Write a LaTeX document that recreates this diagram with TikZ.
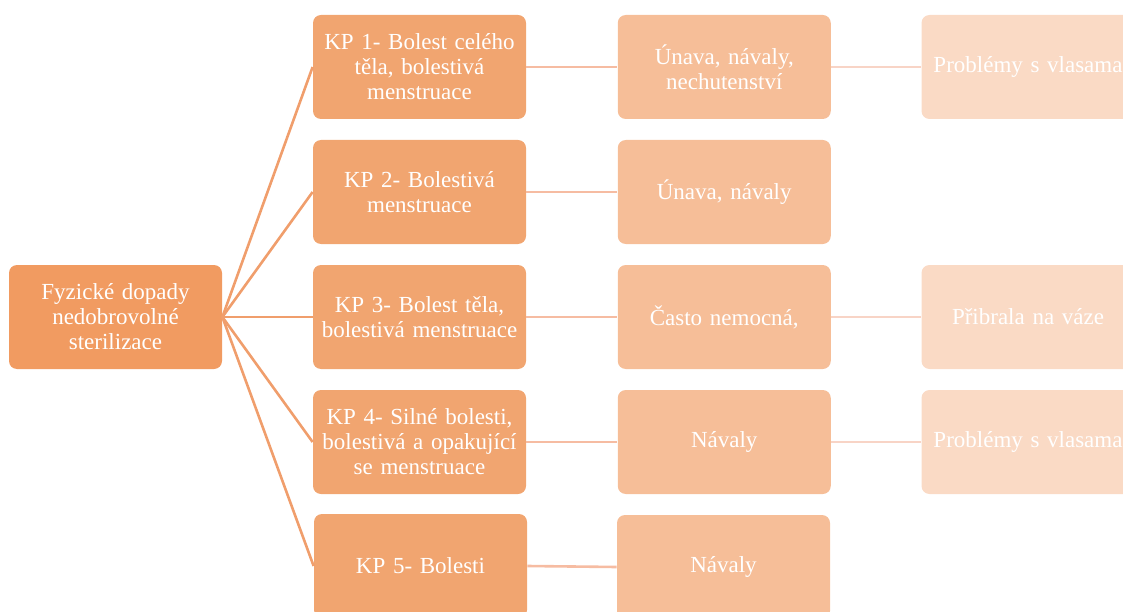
\documentclass[tikz,border=0pt]{standalone}
\usepackage{fontspec}
\setmainfont[WordSpace=0.8]{Liberation Serif}
\usetikzlibrary{positioning}

\definecolor{rootfill}{RGB}{241,155,97}
\definecolor{kpfill}{RGB}{241,165,112}
\definecolor{midfill}{RGB}{246,190,152}
\definecolor{endfill}{RGB}{250,218,197}
\definecolor{kpline}{RGB}{240,158,108}
\definecolor{midline}{RGB}{246,188,162}
\definecolor{endline}{RGB}{248,212,198}

\tikzset{every picture/.style={line width=0.75pt}}
\tikzset{
  box/.style={rounded corners=8pt, minimum width=213pt, minimum height=104pt,
    text width=209pt, align=center, inner sep=0pt, text=white,
    font=\fontsize{23}{25}\selectfont},
  rootbox/.style={box, fill=rootfill},
  kpbox/.style={box, fill=kpfill},
  midbox/.style={box, fill=midfill},
  endbox/.style={box, fill=endfill},
  link/.style={line width=2.6pt}
}

\begin{document}
\begin{tikzpicture}[x=1pt,y=1pt,yscale=-1]
\useasboundingbox (0,0) rectangle (1123,612);

% Text Node
\node [rootbox] (root) at (115.5,317) {Fyzické dopady\\nedobrovolné\\sterilizace};
% Text Node
\node [kpbox] (kp1) at (419.5,67) {KP 1- Bolest celého\\těla, bolestivá\\menstruace};
\node [kpbox] (kp2) at (419.5,192) {KP 2- Bolestivá\\menstruace};
\node [kpbox] (kp3) at (419.5,317) {KP 3- Bolest těla,\\bolestivá menstruace};
\node [kpbox] (kp4) at (419.5,442) {KP 4- Silné bolesti,\\bolestivá a opakující\\se menstruace};
\node [kpbox] (kp5) at (420.5,566) {KP 5- Bolesti};
% Text Node
\node [midbox] (mid1) [right=91pt of kp1] {Únava, návaly,\\nechutenství};
\node [midbox] (mid2) [right=91pt of kp2] {Únava, návaly};
\node [midbox] (mid3) [right=91pt of kp3] {Často nemocná,};
\node [midbox] (mid4) [right=91pt of kp4] {Návaly};
\node [midbox] (mid5) at (723.5,567) {Návaly};
% Text Node
\node [endbox] (end1) [right=90pt of mid1] {Problémy s vlasama};
\node [endbox] (end3) [right=90pt of mid3] {Přibrala na váze};
\node [endbox] (end4) [right=90pt of mid4] {Problémy s vlasama};

%Straight Lines
\foreach \k in {1,...,5}
  \draw [link, kpline] (root.east) -- (kp\k.west);
\foreach \k in {1,...,5}
  \draw [link, midline] (kp\k.east) -- (mid\k.west);
\foreach \k in {1,3,4}
  \draw [link, endline] (mid\k.east) -- (end\k.west);

\end{tikzpicture}
\end{document}
